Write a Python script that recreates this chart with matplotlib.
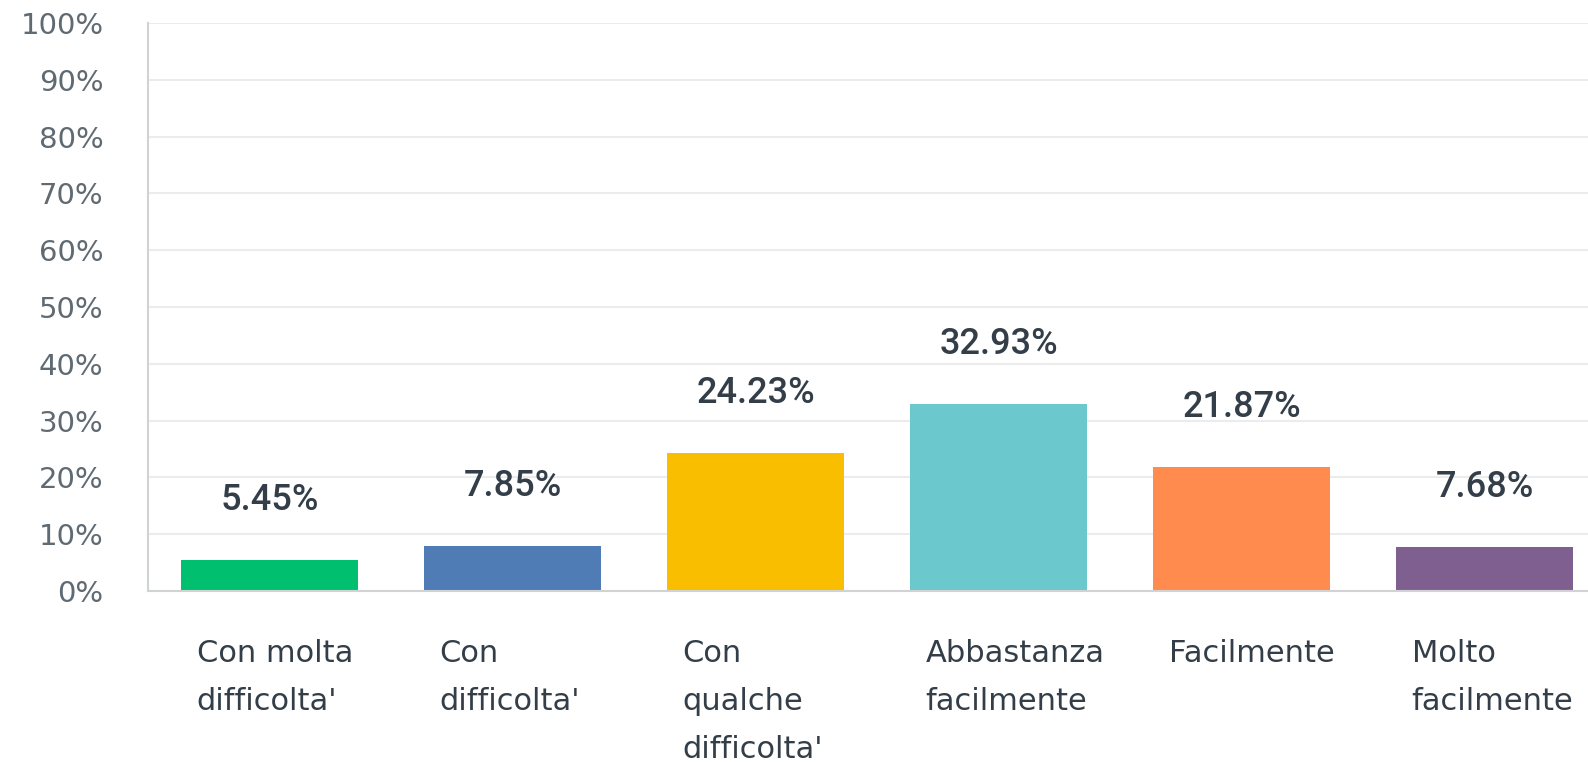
import matplotlib.pyplot as plt
from matplotlib.ticker import FuncFormatter

categories = ["Con molta\ndifficolta'", "Con\ndifficolta'", "Con\nqualche\ndifficolta'",
              "Abbastanza\nfacilmente", "Facilmente", "Molto\nfacilmente"]
values = [5.45, 7.85, 24.23, 32.93, 21.87, 7.68]
colors = ["#00BF6F", "#507CB6", "#F9BE00", "#6BC8CD", "#FF8B4F", "#7F5E90"]
yticks = list(range(0, 101, 10))

plt.rcParams['font.family'] = ['DejaVu Sans']

fig = plt.figure(figsize=(15.88, 7.62), dpi=100)
ax = fig.add_axes([148 / 1588, 171 / 762, 1440 / 1588, 568 / 762])

x = list(range(len(values)))
ax.bar(x, values, width=0.73, color=colors, zorder=2)

for i, v in enumerate(values):
    ax.annotate(f"{v:.2f}%", (i, v), xytext=(0, 43), textcoords='offset points',
                ha='center', va='center', fontsize=26, fontweight='medium',
                family='Roboto', color='#333e48')

for i, lab in enumerate(categories):
    ax.text(i - 0.30, -0.085, lab, transform=ax.get_xaxis_transform(),
            ha='left', va='top', fontsize=22, color='#333e48', linespacing=1.83)

ax.set_xlim(-0.5, 1440 / 243 - 0.5)
ax.set_ylim(0, 100)
ax.set_yticks(yticks)
ax.yaxis.set_major_formatter(FuncFormatter(lambda v, p: f"{v:.0f}%"))
ax.tick_params(axis='y', length=0, pad=32, labelsize=21, labelcolor='#5f6a72')
ax.set_xticks([])
ax.grid(axis='y', color='#ececec', linewidth=1.5, zorder=0)
for s in ['top', 'right']:
    ax.spines[s].set_visible(False)
for s in ['left', 'bottom']:
    ax.spines[s].set_color('#d0d2d3')
    ax.spines[s].set_linewidth(1.5)

fig.savefig("out.png", dpi=100)
